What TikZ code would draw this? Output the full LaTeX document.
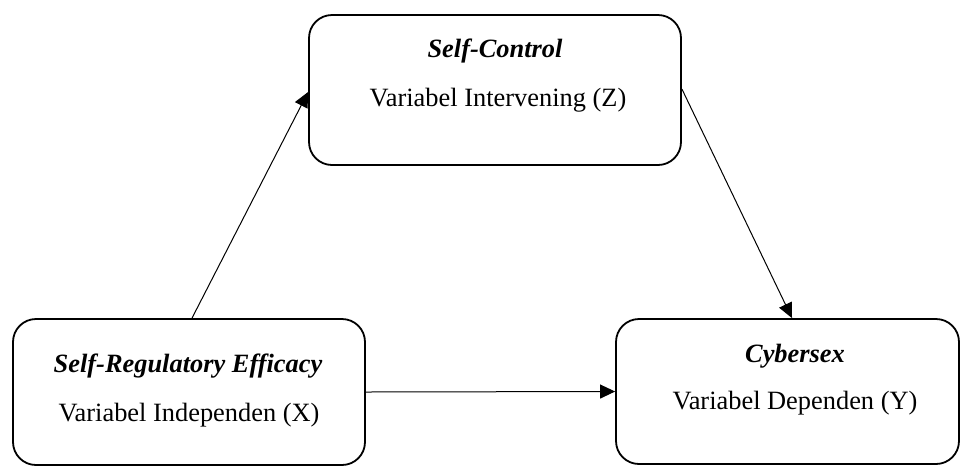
\documentclass[tikz,border=0pt]{standalone}
\usepackage{fontspec}
\setmainfont{Liberation Serif}
\usetikzlibrary{arrows.meta}
\begin{document}
\begin{tikzpicture}[x=1pt,y=-1pt,
  box/.style={draw=black, line width=1.8pt, rounded corners=23pt, inner sep=0pt},
  txt/.style={inner sep=0pt, anchor=base, font=\fontsize{26.4}{30}\selectfont},
  ttl/.style={txt, font=\fontsize{26.4}{30}\selectfont\bfseries\itshape},
  arr/.style={line width=1pt, -{Triangle[length=15pt,width=14pt]}}]
\useasboundingbox (0,0) rectangle (960,467);
% boxes
\node[box, minimum width=372pt, minimum height=150pt] (Z) at (495,90) {};
\node[box, minimum width=352pt, minimum height=146pt] (X) at (189,392) {};
\node[box, minimum width=343pt, minimum height=145pt] (Y) at (787.5,391.5) {};
% texts
\node[ttl] (Zt) at (495,57) {Self-Control};
\node[txt] (Zs) at (498,106) {Variabel Intervening (Z)};
\node[ttl] (Xt) at (188,372) {Self-Regulatory Efficacy};
\node[txt] (Xs) at (189,421) {Variabel Independen (X)};
\node[ttl] (Yt) at (795,362) {Cybersex};
\node[txt] (Ys) at (795,409) {Variabel Dependen (Y)};
% connectors
\draw[arr] ([xshift=3pt]X.north) -- ([yshift=-2pt]Z.west);
\draw[arr] ([yshift=1pt]Z.east) -- ([xshift=4.5pt]Y.north);
\draw[arr] (X.east) -- (Y.west);
\end{tikzpicture}
\end{document}
